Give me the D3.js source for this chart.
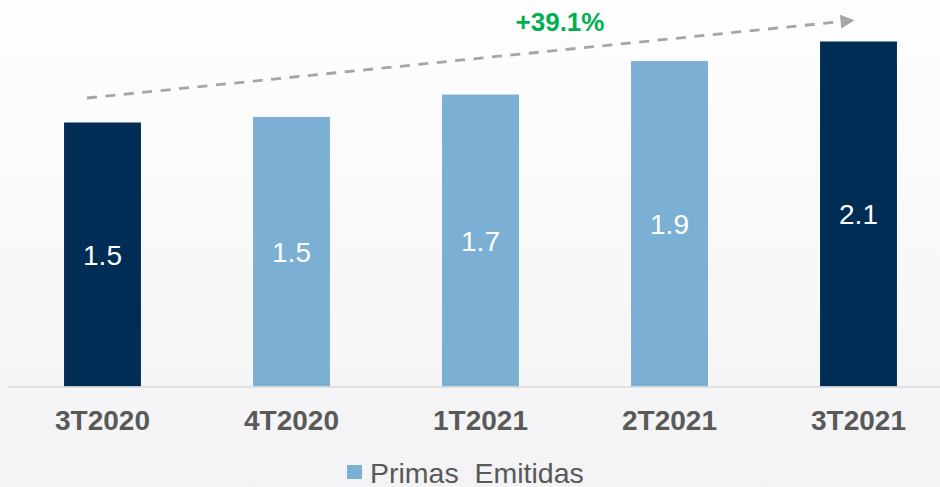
<!DOCTYPE html>
<html><head><meta charset="utf-8">
<script src="https://cdn.jsdelivr.net/npm/d3@7"></script>
<style>html,body{margin:0;padding:0;background:#f5f5f6;}svg{display:block;}</style>
</head><body>
<script>
const categories = ["3T2020", "4T2020", "1T2021", "2T2021", "3T2021"];
const values = [1.50, 1.54, 1.70, 1.94, 2.08];
const highlight = [true, false, false, false, true];
const seriesName = "Primas  Emitidas";
const growthLabel = "+39.1%";
const yDomain = [-0.39, 2.08];

const W = 940, H = 487;
const svg = d3.select("body").append("svg").attr("width", W).attr("height", H);
const defs = svg.append("defs");
const grad = defs.append("linearGradient").attr("id","bg").attr("x1",0).attr("y1",0).attr("x2",0).attr("y2",1);
grad.append("stop").attr("offset","0%").attr("stop-color","#fefefe");
grad.append("stop").attr("offset","100%").attr("stop-color","#f3f3f5");
svg.append("rect").attr("width",W).attr("height",H).attr("fill","url(#bg)");

const baseY = 386.5;
const x = d3.scaleBand().domain(categories).range([8, 953]).paddingInner(0.593).paddingOuter(0.2965);
const y = d3.scaleLinear().domain(yDomain).range([baseY, 41.5]);

const dark = "#002d56", light = "#7bafd4";
const fmt = d3.format(".1f");

svg.selectAll("rect.bar").data(values).join("rect").attr("class","bar")
  .attr("x",(d,i)=>x(categories[i])).attr("width",x.bandwidth())
  .attr("y",d=>y(d)).attr("height",d=>baseY-y(d))
  .attr("fill",(d,i)=>highlight[i]?dark:light);

svg.append("line").attr("x1",8).attr("x2",940).attr("y1",baseY+0.5).attr("y2",baseY+0.5)
  .attr("stroke","#d9d9d9").attr("stroke-width",1.5);

svg.selectAll("text.val").data(values).join("text").attr("class","val")
  .attr("x",(d,i)=>x(categories[i])+x.bandwidth()/2)
  .attr("y",d=>(y(d)+baseY)/2).attr("dy","0.36em")
  .attr("text-anchor","middle").attr("fill","#ffffff")
  .attr("font-family","Liberation Sans, Arial, sans-serif").attr("font-size",28)
  .text(d=>fmt(d));

const xAxis = svg.append("g").attr("transform",`translate(0,${baseY})`)
  .call(d3.axisBottom(x).tickSize(0).tickPadding(0));
xAxis.select(".domain").remove();
xAxis.selectAll("text").attr("y",43.5).attr("dy",0)
  .attr("font-family","Liberation Sans, Arial, sans-serif").attr("font-size",28)
  .attr("font-weight","bold").attr("fill","#595959");

// growth arrow
defs.append("marker").attr("id","arr").attr("viewBox","0 0 10 10").attr("refX",1).attr("refY",5)
  .attr("markerWidth",15).attr("markerHeight",14).attr("markerUnits","userSpaceOnUse").attr("orient","auto")
  .append("path").attr("d","M0,0 L10,5 L0,10 Z").attr("fill","#a6a6a6");
svg.append("line").attr("x1",87).attr("y1",98).attr("x2",842).attr("y2",21.5)
  .attr("stroke","#a6a6a6").attr("stroke-width",2.8).attr("stroke-dasharray","10,8.5")
  .attr("marker-end","url(#arr)");
svg.append("text").attr("x",560).attr("y",31).attr("text-anchor","middle")
  .attr("font-family","Liberation Sans, Arial, sans-serif").attr("font-size",26)
  .attr("font-weight","bold").attr("fill","#00b050").text(growthLabel);

// legend
svg.append("rect").attr("x",347).attr("y",465).attr("width",15).attr("height",14).attr("fill",light);
svg.append("text").attr("x",370).attr("y",482.5)
  .attr("font-family","Liberation Sans, Arial, sans-serif").attr("font-size",28.5)
  .attr("fill","#595959").attr("xml:space","preserve").style("white-space","pre").text(seriesName);
</script>
</body></html>
